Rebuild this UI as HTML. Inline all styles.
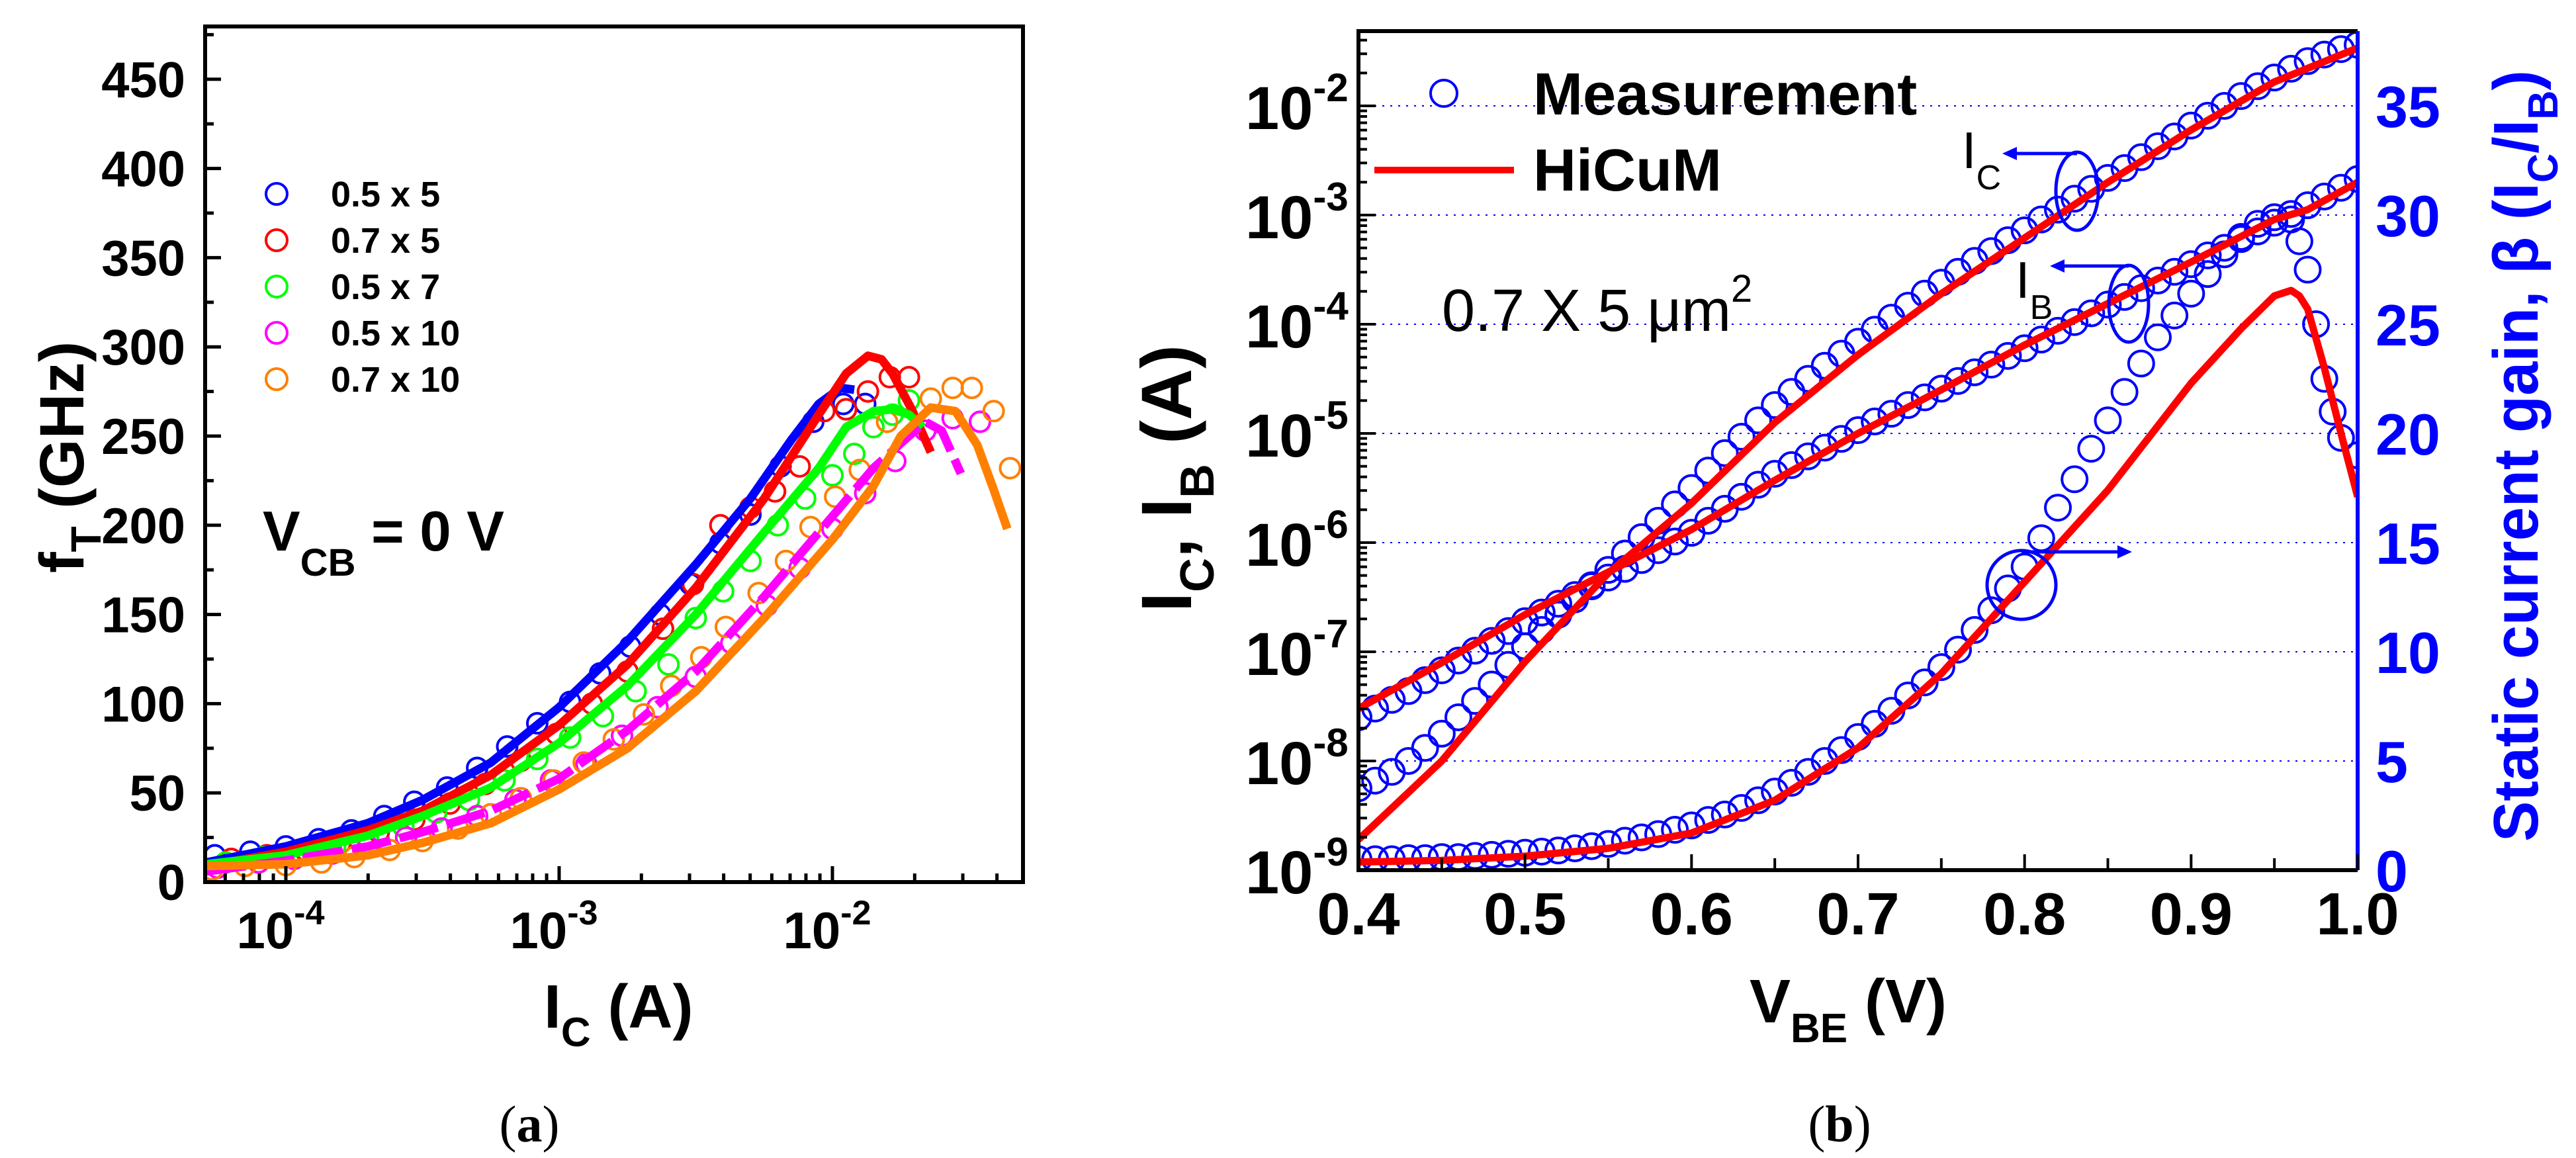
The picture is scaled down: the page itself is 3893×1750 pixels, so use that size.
<!DOCTYPE html>
<html><head><meta charset="utf-8"><style>
html,body{margin:0;padding:0;background:#fff;}
svg{display:block;font-family:"Liberation Sans",Arial,sans-serif;}
</style></head><body>
<svg id="fig" width="3893" height="1750" viewBox="0 0 3893 1750" xmlns="http://www.w3.org/2000/svg">
<defs>
<clipPath id="clipA"><rect x="310" y="40" width="1236" height="1293"/></clipPath>
<clipPath id="clipB"><rect x="2053" y="47" width="1510" height="1268"/></clipPath>
</defs>
<rect x="0" y="0" width="3893" height="1750" fill="#fff"/>
<g id="panelA"></g>
<g id="panelB"></g>
</svg>
<script>
// ---------- Panel (a) data: fT vs log10(IC) ----------
const aSeriesNames = ["0.5 x 5","0.7 x 5","0.5 x 7","0.5 x 10","0.7 x 10"];
const aColors = ["#0000ff","#ff0000","#00ff00","#ff00ff","#ff8000"];
const aYTicks = [0,50,100,150,200,250,300,350,400,450];
const aXDecades = [-4,-3,-2];
const aMeasBlueX = [-4.26,-4.13,-4.0,-3.88,-3.76,-3.64,-3.53,-3.41,-3.3,-3.19,-3.08,-2.96,-2.85,-2.74,-2.63,-2.52,-2.41,-2.3,-2.19,-2.07,-1.96,-1.88];
const aMeasBlueY = [15,17,20,24,29,37,45,53,64,76,89,101,117,132,150,167,190,206,233,258,268,268];
const aMeasRedX = [-4.2,-4.07,-3.93,-3.8,-3.66,-3.53,-3.4,-3.27,-3.14,-3.01,-2.88,-2.75,-2.62,-2.51,-2.41,-2.3,-2.21,-2.12,-2.03,-1.95,-1.87,-1.79,-1.72];
const aMeasRedY = [13,15,18,22,28,35,44,55,68,83,100,118,142,167,200,210,219,233,264,265,275,283,283];
const aMeasGreenX = [-4.22,-4.08,-3.95,-3.82,-3.7,-3.57,-3.45,-3.33,-3.2,-3.08,-2.96,-2.84,-2.72,-2.6,-2.5,-2.4,-2.3,-2.2,-2.1,-2.0,-1.92,-1.85,-1.78,-1.72];
const aMeasGreenY = [11,14,17,20,25,31,39,46,57,69,81,93,107,122,148,163,180,200,215,228,240,255,262,270];
const aMeasMagX = [-4.25,-4.1,-3.97,-3.83,-3.7,-3.56,-3.43,-3.3,-3.16,-3.03,-2.9,-2.77,-2.64,-2.5,-2.37,-2.24,-2.12,-2.0,-1.88,-1.77,-1.66,-1.56,-1.46];
const aMeasMagY = [8,11,13,16,20,25,30,37,46,57,66,82,98,115,134,155,176,198,218,236,253,260,258];
const aMeasOrX = [-4.27,-4.15,-4.0,-3.87,-3.75,-3.62,-3.5,-3.37,-3.25,-3.14,-3.02,-2.91,-2.8,-2.69,-2.59,-2.48,-2.39,-2.27,-2.17,-2.08,-1.99,-1.9,-1.8,-1.64,-1.56,-1.49,-1.41,-1.35];
const aMeasOrY = [7,9,9.5,11,14,18,23,30,38,47,57,67,80,94,110,126,143,162,180,199,216,231,258,271,277,277,264,232];
const aLineBlueX = [-4.29,-4.0,-3.7,-3.5,-3.25,-3.0,-2.75,-2.5,-2.3,-2.15,-2.05,-1.97,-1.92];
const aLineBlueY = [11,20,33,46,67,98,135,178,215,248,268,277,276];
const aLineRedX = [-4.29,-4.0,-3.7,-3.5,-3.25,-3.0,-2.75,-2.5,-2.25,-2.05,-1.95,-1.87,-1.82,-1.78,-1.71,-1.64];
const aLineRedY = [9,17,29,40,60,88,122,165,215,262,285,295,293,285,265,241];
const aLineGreenX = [-4.29,-4.0,-3.7,-3.5,-3.25,-3.0,-2.75,-2.5,-2.25,-2.05,-1.95,-1.85,-1.78,-1.72,-1.67];
const aLineGreenY = [10,15,26,37,53,78,110,150,196,232,255,264,265,262,255];
const aLineMagX = [-4.29,-4.0,-3.7,-3.5,-3.25,-3.0,-2.75,-2.5,-2.25,-2.0,-1.85,-1.72,-1.66,-1.6,-1.53];
const aLineMagY = [6,12,20,28,40,58,85,118,160,205,232,250,258,253,229];
const aLineOrX = [-4.29,-4.0,-3.7,-3.5,-3.25,-3.0,-2.75,-2.5,-2.25,-2.0,-1.85,-1.75,-1.64,-1.55,-1.47,-1.41,-1.36];
const aLineOrY = [9,10,15,22,33,52,75,107,148,192,222,250,266,264,245,220,198];

// ---------- Panel (b) data ----------
const bVMeas = [];
for (let i = 0; i <= 60; i++) bVMeas.push(0.40 + i * 0.01);
const bIcMeasLog = [-8.25,-8.18,-8.10,-8.00,-7.88,-7.75,-7.60,-7.45,-7.30,-7.12,-6.95,-6.80,-6.66,-6.52,-6.39,-6.25,-6.10,-5.95,-5.80,-5.65,-5.50,-5.34,-5.18,-5.03,-4.88,-4.74,-4.62,-4.50,-4.38,-4.27,-4.16,-4.05,-3.94,-3.83,-3.72,-3.62,-3.52,-3.42,-3.33,-3.23,-3.14,-3.04,-2.95,-2.85,-2.76,-2.66,-2.57,-2.47,-2.37,-2.28,-2.18,-2.09,-2.00,-1.91,-1.82,-1.74,-1.66,-1.59,-1.53,-1.48,-1.44];
const bIbMeasLog = [-7.60,-7.52,-7.44,-7.36,-7.26,-7.17,-7.08,-6.99,-6.90,-6.81,-6.72,-6.64,-6.56,-6.48,-6.40,-6.32,-6.24,-6.16,-6.07,-5.99,-5.91,-5.80,-5.69,-5.58,-5.47,-5.37,-5.29,-5.21,-5.13,-5.05,-4.97,-4.89,-4.82,-4.74,-4.67,-4.59,-4.52,-4.44,-4.37,-4.29,-4.22,-4.14,-4.06,-3.98,-3.90,-3.82,-3.75,-3.67,-3.60,-3.52,-3.45,-3.37,-3.30,-3.22,-3.15,-3.07,-2.99,-2.91,-2.83,-2.75,-2.67];
const bBetaMeas = [0.5,0.5,0.5,0.55,0.55,0.6,0.6,0.65,0.7,0.75,0.8,0.85,0.9,1.0,1.1,1.2,1.35,1.5,1.65,1.85,2.05,2.3,2.55,2.85,3.2,3.6,4.0,4.5,5.0,5.5,6.1,6.7,7.3,8.0,8.6,9.3,10.1,11.0,11.9,12.9,13.9,15.2,16.6,17.9,19.3,20.6,21.9,23.2,24.4,25.4,26.4,27.3,28.2,29.0,29.6,29.9,29.8,27.5,22.5,19.8,19.0];
const bBetaExtraV = [0.965,0.975,0.985];
const bBetaExtra = [28.8,25.0,21.0];
const bIcModelV = [0.40,0.45,0.50,0.55,0.60,0.65,0.70,0.75,0.80,0.85,0.90,0.95,1.0];
const bIcModelLog = [-8.72,-8.0,-7.09,-6.28,-5.64,-4.90,-4.28,-3.72,-3.21,-2.70,-2.22,-1.78,-1.47];
const bIbModelV = [0.40,0.45,0.50,0.55,0.60,0.65,0.70,0.75,0.80,0.85,0.90,0.95,0.97,1.0];
const bIbModelLog = [-7.52,-7.10,-6.66,-6.27,-5.88,-5.43,-5.00,-4.60,-4.19,-3.81,-3.43,-3.04,-2.95,-2.70];
const bBetaModelV = [0.40,0.45,0.50,0.55,0.60,0.65,0.70,0.75,0.80,0.85,0.90,0.93,0.95,0.96,0.965,0.97,0.98,0.99,1.0];
const bBetaModel = [0.37,0.45,0.64,1.0,1.7,3.2,5.6,9.0,13.2,17.4,22.3,24.8,26.3,26.55,26.3,25.7,23.0,20.0,17.1];
const bXTicks = [0.4,0.5,0.6,0.7,0.8,0.9,1.0];
const bXTickLabels = ["0.4","0.5","0.6","0.7","0.8","0.9","1.0"];
const bYDecades = [-9,-8,-7,-6,-5,-4,-3,-2];
const bRTicks = [0,5,10,15,20,25,30,35];

const NS = "http://www.w3.org/2000/svg";
function mk(tag, attrs, parent) {
  const e = document.createElementNS(NS, tag);
  for (const k in attrs) e.setAttribute(k, attrs[k]);
  parent.appendChild(e);
  return e;
}
function xa(l){ return 432 + (l + 4) * 413; }
function ya(f){ return 1333 - f * 2.696; }
function xb(v){ return 2053 + (v - 0.4) * 2516.7; }
function yb(l){ return 160 + (-2 - l) * 165; }
function yr(b){ return 1315 - b * 33; }

const A = document.getElementById('panelA');
const B = document.getElementById('panelB');

// ===== Panel A =====
const plotA = mk('g', {'clip-path':'url(#clipA)'}, A);


const meas = [[aMeasBlueX,aMeasBlueY],[aMeasRedX,aMeasRedY],[aMeasGreenX,aMeasGreenY],[aMeasMagX,aMeasMagY],[aMeasOrX,aMeasOrY]];
const lines = [[aLineBlueX,aLineBlueY],[aLineRedX,aLineRedY],[aLineGreenX,aLineGreenY],[aLineMagX,aLineMagY],[aLineOrX,aLineOrY]];
const slug = ["0-5x5","0-7x5","0-5x7","0-5x10","0-7x10"];
for (let s = 0; s < 5; s++) {
  const g = mk('g', {}, plotA);
  
  
  for (let i = 0; i < meas[s][0].length; i++) {
    const c = mk('circle', {cx: xa(meas[s][0][i]), cy: ya(meas[s][1][i]), r: 15, fill: 'none', stroke: aColors[s], 'stroke-width': 4}, g);
    
    
  }
}
for (let s = 0; s < 5; s++) {
  const pts = lines[s][0].map((x, i) => xa(x).toFixed(1) + ',' + ya(lines[s][1][i]).toFixed(1)).join(' ');
  const attrs = {points: pts, fill: 'none', stroke: aColors[s], 'stroke-width': 13, 'stroke-linejoin': 'round'};
  if (s === 3) attrs['stroke-dasharray'] = '60 14';
  const pl = mk('polyline', attrs, plotA);
  
  
}
// axes frame
const frameA = mk('rect', {x: 310, y: 40, width: 1236, height: 1293, fill: 'none', stroke: '#000', 'stroke-width': 6}, A);


// y ticks
for (let v = 0; v <= 475; v += 25) {
  const major = v % 50 === 0;
  const t = mk('line', {x1: 310, x2: 310 + (major ? 24 : 13), y1: ya(v), y2: ya(v), stroke: '#000', 'stroke-width': 5}, A);
  
  
}
aYTicks.forEach(v => {
  const t = mk('text', {x: 280, y: ya(v) + 27, 'text-anchor': 'end', 'font-size': 76, 'font-weight': 'bold'}, A);
  t.textContent = String(v);
  
  
});
// x ticks
for (let d = -5; d <= -2; d++) {
  for (let m = 1; m <= 9; m++) {
    const l = d + Math.log10(m);
    const x = xa(l);
    if (x < 312 || x > 1544) continue;
    const t = mk('line', {x1: x, x2: x, y1: 1333, y2: 1333 - (m === 1 ? 24 : 13), stroke: '#000', 'stroke-width': 5}, A);
    
    
  }
}
aXDecades.forEach(d => {
  const t = mk('text', {x: xa(d) - 8, y: 1433, 'text-anchor': 'middle', 'font-size': 78, 'font-weight': 'bold'}, A);
  
  
  const t1 = mk('tspan', {}, t); t1.textContent = '10';
  const t2 = mk('tspan', {dy: -36, 'font-size': 52}, t); t2.textContent = String(d);
});
</script>
<script>
// titles & legend for panel A
(function(){
  const A = document.getElementById('panelA');
  const NS = "http://www.w3.org/2000/svg";
  const yt = document.createElementNS(NS, 'text');
  yt.setAttribute('transform', 'translate(126,866) rotate(-90)');
  yt.setAttribute('font-size', '95'); yt.setAttribute('font-weight', 'bold');
  yt.innerHTML = '<tspan>f</tspan><tspan dy="26" font-size="64">T</tspan><tspan dy="-26"> (GHz)</tspan>';
  
  
  A.appendChild(yt);
  const xt = document.createElementNS(NS, 'text');
  xt.setAttribute('x', '822'); xt.setAttribute('y', '1553');
  xt.setAttribute('font-size', '93'); xt.setAttribute('font-weight', 'bold');
  xt.innerHTML = '<tspan>I</tspan><tspan dy="28" font-size="62">C</tspan><tspan dy="-28"> (A)</tspan>';
  
  
  A.appendChild(xt);
  const vcb = document.createElementNS(NS, 'text');
  vcb.setAttribute('x', '397'); vcb.setAttribute('y', '832');
  vcb.setAttribute('font-size', '85'); vcb.setAttribute('font-weight', 'bold');
  vcb.innerHTML = '<tspan>V</tspan><tspan dy="38" font-size="58">CB</tspan><tspan dy="-38"> = 0 V</tspan>';
  
  
  A.appendChild(vcb);
  const cap = document.createElementNS(NS, 'text');
  cap.setAttribute('x', '800'); cap.setAttribute('y', '1725');
  cap.setAttribute('text-anchor', 'middle'); cap.setAttribute('font-size', '78');
  cap.setAttribute('font-family', '"Liberation Serif", serif');
  cap.innerHTML = '(<tspan font-weight="bold">a</tspan>)';
  
  
  A.appendChild(cap);
  const legY = [293, 363, 433, 503, 573];
  for (let i = 0; i < 5; i++) {
    const c = document.createElementNS(NS, 'circle');
    c.setAttribute('cx', '418'); c.setAttribute('cy', legY[i]); c.setAttribute('r', '16');
    c.setAttribute('fill', 'none'); c.setAttribute('stroke', aColors[i]); c.setAttribute('stroke-width', '4');
    
    
    A.appendChild(c);
    const t = document.createElementNS(NS, 'text');
    t.setAttribute('x', '500'); t.setAttribute('y', legY[i] + 19);
    t.setAttribute('font-size', '54'); t.setAttribute('font-weight', 'bold');
    t.textContent = aSeriesNames[i];
    
    
    A.appendChild(t);
  }
})();

// ===== Panel B =====
(function(){
  // grid
  bYDecades.slice(1).forEach(d => {
    const g = mk('line', {x1: 2053, x2: 3563, y1: yb(d), y2: yb(d), stroke: '#0000ff', 'stroke-width': 2, 'stroke-dasharray': '3 9'}, B);
    
    
  });
  const plotB = mk('g', {'clip-path': 'url(#clipB)'}, B);
  
  
  const gm = mk('g', {}, plotB);
  
  
  function circ(x, y) {
    const c = mk('circle', {cx: x, cy: y, r: 19, fill: 'none', stroke: '#0000ff', 'stroke-width': 4}, gm);
    
    
  }
  bVMeas.forEach((v, i) => circ(xb(v), yb(bIcMeasLog[i])));
  bVMeas.forEach((v, i) => circ(xb(v), yb(bIbMeasLog[i])));
  bVMeas.forEach((v, i) => circ(xb(v), yr(bBetaMeas[i])));
  bBetaExtraV.forEach((v, i) => circ(xb(v), yr(bBetaExtra[i])));
  function pl(xs, ys, fy, name) {
    const pts = xs.map((x, i) => xb(x).toFixed(1) + ',' + fy(ys[i]).toFixed(1)).join(' ');
    const p = mk('polyline', {points: pts, fill: 'none', stroke: '#ff0000', 'stroke-width': 11, 'stroke-linejoin': 'round'}, plotB);
    
    
  }
  pl(bIcModelV, bIcModelLog, yb, 'hicum-ic-line');
  pl(bIbModelV, bIbModelLog, yb, 'hicum-ib-line');
  pl(bBetaModelV, bBetaModel, yr, 'hicum-beta-line');
  // frame
  const f1 = mk('path', {d: 'M3563,47 L2053,47 L2053,1315 L3563,1315', fill: 'none', stroke: '#000', 'stroke-width': 6}, B);
  
  
  const f2 = mk('line', {x1: 3563, x2: 3563, y1: 47, y2: 1315, stroke: '#0000ff', 'stroke-width': 6}, B);
  
  
  // left ticks
  for (let d = -9; d <= -2; d++) {
    for (let m = 1; m <= 9; m++) {
      const y = yb(d + Math.log10(m));
      if (y < 50) continue;
      const t = mk('line', {x1: 2053, x2: 2053 + (m === 1 ? 26 : 13), y1: y, y2: y, stroke: '#000', 'stroke-width': 4}, B);
      
      
    }
  }
  bYDecades.forEach(d => {
    const t = mk('text', {x: 1882, y: yb(d) + 35, 'font-size': 92, 'font-weight': 'bold'}, B);
    
    
    const a = mk('tspan', {}, t); a.textContent = '10';
    const b = mk('tspan', {dy: -42, 'font-size': 60}, t); b.textContent = String(d);
  });
  // bottom ticks
  for (let k = 0; k <= 12; k++) {
    const v = 0.4 + k * 0.05;
    const t = mk('line', {x1: xb(v), x2: xb(v), y1: 1315, y2: 1315 - (k % 2 === 0 ? 24 : 18), stroke: '#000', 'stroke-width': 4}, B);
    
    
  }
  bXTicks.forEach((v, i) => {
    const t = mk('text', {x: xb(v), y: 1412, 'text-anchor': 'middle', 'font-size': 90, 'font-weight': 'bold'}, B);
    t.textContent = bXTickLabels[i];
    
    
  });
  bRTicks.forEach(v => {
    const t = mk('text', {x: 3590, y: yr(v) + 32, 'font-size': 88, 'font-weight': 'bold', fill: '#0000ff'}, B);
    t.textContent = String(v);
    
    
  });
})();
</script>
<script>
(function(){
  const B = document.getElementById('panelB');
  const NS = "http://www.w3.org/2000/svg";
  function addHTML(tag, attrs, html, name) {
    const e = document.createElementNS(NS, tag);
    for (const k in attrs) e.setAttribute(k, attrs[k]);
    if (html !== null) e.innerHTML = html;
    
    
    B.appendChild(e);
    return e;
  }
  addHTML('text', {transform: 'translate(1800,925) rotate(-90)', 'font-size': 108, 'font-weight': 'bold'},
    '<tspan>I</tspan><tspan dy="34" font-size="72">C</tspan><tspan dy="-34">, I</tspan><tspan dy="34" font-size="72">B</tspan><tspan dy="-34"> (A)</tspan>', 'y-axis-title-b');
  addHTML('text', {transform: 'translate(3835,1272) rotate(-90)', 'font-size': 96, 'font-weight': 'bold', fill: '#0000ff', textLength: 1166, lengthAdjust: 'spacingAndGlyphs'},
    'Static current gain, β (I<tspan dy="30" font-size="64">C</tspan><tspan dy="-30">/I</tspan><tspan dy="30" font-size="64">B</tspan><tspan dy="-30">)</tspan>', 'right-axis-title');
  addHTML('text', {x: 2644, y: 1545, 'font-size': 93, 'font-weight': 'bold'},
    '<tspan>V</tspan><tspan dy="30" font-size="62">BE</tspan><tspan dy="-30"> (V)</tspan>', 'x-axis-title-b');
  addHTML('text', {x: 2780, y: 1725, 'text-anchor': 'middle', 'font-size': 78, 'font-family': '"Liberation Serif", serif'},
    '(<tspan font-weight="bold">b</tspan>)', 'caption-b');
  // legend
  addHTML('circle', {cx: 2182, cy: 141, r: 20, fill: 'none', stroke: '#0000ff', 'stroke-width': 4}, null, 'legend-marker-measurement');
  addHTML('text', {x: 2317, y: 173, 'font-size': 90, 'font-weight': 'bold'}, 'Measurement', 'legend-entry-measurement');
  addHTML('line', {x1: 2077, x2: 2288, y1: 257, y2: 257, stroke: '#ff0000', 'stroke-width': 10}, null, 'legend-line-hicum');
  addHTML('text', {x: 2317, y: 288, 'font-size': 90, 'font-weight': 'bold'}, 'HiCuM', 'legend-entry-hicum');
  addHTML('text', {x: 2179, y: 500, 'font-size': 90}, '0.7 X 5 μm<tspan dy="-44" font-size="58">2</tspan>', 'device-size-annotation');
  // annotations
  addHTML('text', {x: 2965, y: 254, 'font-size': 78}, 'I<tspan dy="32" font-size="52">C</tspan>', 'ic-label');
  addHTML('ellipse', {cx: 3139, cy: 289, rx: 32, ry: 59, fill: 'none', stroke: '#0000ff', 'stroke-width': 5}, null, 'ic-ellipse');
  addHTML('path', {d: 'M3139,232 L3040,232', stroke: '#0000ff', 'stroke-width': 5, fill: 'none'}, null, 'ic-arrow');
  addHTML('path', {d: 'M3026,232 L3048,222 L3048,242 Z', fill: '#0000ff'}, null, 'ic-arrowhead');
  addHTML('text', {x: 3046, y: 450, 'font-size': 78}, 'I<tspan dy="32" font-size="52">B</tspan>', 'ib-label');
  addHTML('ellipse', {cx: 3217, cy: 459, rx: 30, ry: 58, fill: 'none', stroke: '#0000ff', 'stroke-width': 5}, null, 'ib-ellipse');
  addHTML('path', {d: 'M3217,402 L3112,402', stroke: '#0000ff', 'stroke-width': 5, fill: 'none'}, null, 'ib-arrow');
  addHTML('path', {d: 'M3098,402 L3120,392 L3120,412 Z', fill: '#0000ff'}, null, 'ib-arrowhead');
  addHTML('ellipse', {cx: 3055, cy: 884, rx: 52, ry: 52, fill: 'none', stroke: '#0000ff', 'stroke-width': 5}, null, 'beta-ellipse');
  addHTML('path', {d: 'M3055,834 L3208,834', stroke: '#0000ff', 'stroke-width': 5, fill: 'none'}, null, 'beta-arrow');
  addHTML('path', {d: 'M3222,834 L3200,824 L3200,844 Z', fill: '#0000ff'}, null, 'beta-arrowhead');
})();
</script>
</body></html>
